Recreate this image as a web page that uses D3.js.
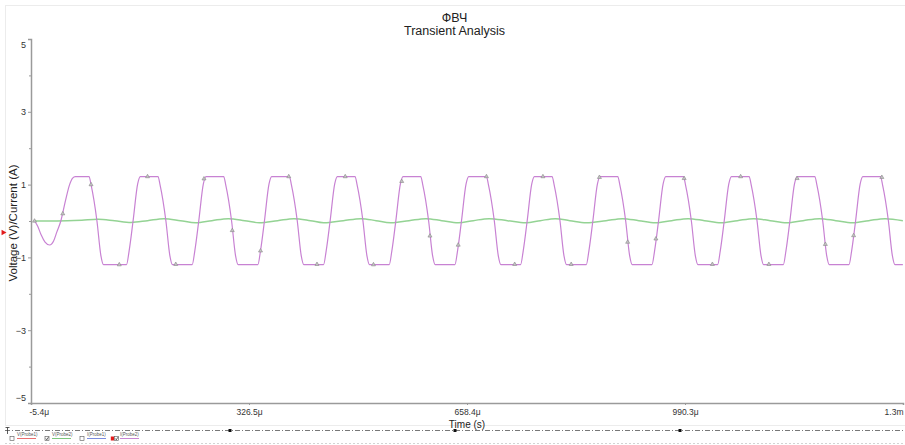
<!DOCTYPE html>
<html><head><meta charset="utf-8">
<script src="https://cdn.jsdelivr.net/npm/d3@7"></script>
<style>html,body{margin:0;padding:0;background:#fff;} svg{display:block;font-family:"Liberation Sans",Arial,sans-serif;}</style>
</head><body><svg id="c" width="905" height="445"></svg>
<script>
// ---------- data ----------
const titleLines = ["ФВЧ", "Transient Analysis"];
const xLabel = "Time (s)";
const yLabel = "Voltage (V)/Current (A)";
const xDomain = [-5.4, 1322.2];            // microseconds
const yDomain = [-5, 5];
const xTickValues = [-5.4, 326.5, 658.4, 990.3, 1322.2];
const xTickLabels = ["-5.4\u03bc", "326.5\u03bc", "658.4\u03bc", "990.3\u03bc", "1.3m"];
const yMajorTicks = [-5, -3, -1, 1, 3, 5];
const yMinorTicks = [-4, -2, 0, 2, 4];
const probeNames = ["V(Probe1)", "V(Probe2)", "I(Probe1)", "I(Probe2)"];
const probeChecked = [false, true, false, true];
const probeColors = ["#e34a4a", "#5cb85c", "#5b6fd6", "#b866c8"];

// I(Probe2) trace: [time μs, value]
const iProbe2 = [
[0,0],[5,-0.15],[10,-0.38],[16,-0.58],[23,-0.66],[29,-0.55],[34,-0.3],[40,0],[47,0.55],[53,0.98],[58,1.18],[62,1.22],
[83,1.22],[86,1.0],[95,0],[101,-0.95],[105,-1.2],
[140,-1.2],[144,-0.82],[150,0],[157,1.02],[161,1.22],
[188,1.22],[191,1.0],[200,0],[206,-0.95],[210,-1.2],
[240,-1.2],[244,-0.82],[250,0],[257,1.02],[261,1.22],
[288,1.22],[291,1.0],[300,0],[306,-0.95],[310,-1.2],
[340,-1.2],[344,-0.82],[350,0],[357,1.02],[361,1.22],
[388,1.22],[391,1.0],[400,0],[406,-0.95],[410,-1.2],
[440,-1.2],[444,-0.82],[450,0],[457,1.02],[461,1.22],
[488,1.22],[491,1.0],[500,0],[506,-0.95],[510,-1.2],
[540,-1.2],[544,-0.82],[550,0],[557,1.02],[561,1.22],
[588,1.22],[591,1.0],[600,0],[606,-0.95],[610,-1.2],
[640,-1.2],[644,-0.82],[650,0],[657,1.02],[661,1.22],
[688,1.22],[691,1.0],[700,0],[706,-0.95],[710,-1.2],
[740,-1.2],[744,-0.82],[750,0],[757,1.02],[761,1.22],
[788,1.22],[791,1.0],[800,0],[806,-0.95],[810,-1.2],
[840,-1.2],[844,-0.82],[850,0],[857,1.02],[861,1.22],
[888,1.22],[891,1.0],[900,0],[906,-0.95],[910,-1.2],
[940,-1.2],[944,-0.82],[950,0],[957,1.02],[961,1.22],
[988,1.22],[991,1.0],[1000,0],[1006,-0.95],[1010,-1.2],
[1040,-1.2],[1044,-0.82],[1050,0],[1057,1.02],[1061,1.22],
[1088,1.22],[1091,1.0],[1100,0],[1106,-0.95],[1110,-1.2],
[1140,-1.2],[1144,-0.82],[1150,0],[1157,1.02],[1161,1.22],
[1188,1.22],[1191,1.0],[1200,0],[1206,-0.95],[1210,-1.2],
[1240,-1.2],[1244,-0.82],[1250,0],[1257,1.02],[1261,1.22],
[1288,1.22],[1291,1.0],[1300,0],[1306,-0.95],[1310,-1.2],
[1322,-1.2]
];

// I(Probe2) cursor markers: [time μs, value]
const iProbe2Markers = [
[0,0],[43,0.2],[86,1.0],[129,-1.2],[172,1.22],[215,-1.19],[258,1.16],[301,-0.26],[344,-0.82],[387,1.22],
[430,-1.19],[473,1.22],[516,-1.2],[559,1.09],[602,-0.41],[645,-0.66],[688,1.22],[731,-1.19],[774,1.22],[817,-1.19],
[860,1.2],[903,-0.58],[946,-0.49],[989,1.17],[1032,-1.19],[1075,1.22],[1118,-1.19],[1161,1.17],[1204,-0.64],[1247,-0.4],
[1290,1.2]
];

// V(Probe2) trace: [time μs, value]
const vProbe2 = [
[0,0],[25,0],[50,0.005],[72,0.02],[97,0.045],[122,0.005],[147,-0.04],[172,0.01],[197,0.065],[222,0.01],
[245,-0.05],[270,0.01],[295,0.065],[320,0.01],[342,-0.05],[370,0.01],[395,0.065],[420,0.01],[440,-0.05],[470,0.01],
[497,0.065],[520,0.01],[542,-0.05],[570,0.01],[596,0.065],[620,0.01],[645,-0.05],[668,0.01],[692,0.065],[720,0.01],
[748,-0.05],[770,0.01],[793,0.065],[815,0.01],[840,-0.05],[870,0.01],[895,0.065],[920,0.01],[945,-0.05],[970,0.01],
[995,0.065],[1020,0.01],[1045,-0.05],[1070,0.01],[1095,0.065],[1120,0.01],[1145,-0.05],[1170,0.01],[1195,0.065],[1220,0.01],
[1245,-0.05],[1270,0.01],[1295,0.065],[1322,0.01]
];

// ---------- layout ----------
const svg = d3.select("#c");
const plot = {left: 31, right: 903, top: 39, bottom: 403};
const x = d3.scaleLinear().domain(xDomain).range([plot.left, plot.right]);
const y = d3.scaleLinear().domain(yDomain).range([plot.bottom, plot.top]);

// panel frame
svg.append("rect").attr("x", 5.5).attr("y", 5.5).attr("width", 905).attr("height", 420)
  .attr("fill", "none").attr("stroke", "#ececec");

// title
svg.selectAll("text.title").data(titleLines).join("text")
  .attr("class", "title").attr("x", 454.5).attr("y", (d, i) => 21.5 + i * 13.5)
  .attr("text-anchor", "middle").attr("font-size", 12.5).attr("fill", "#222").text(d => d);

// y label
svg.append("text").attr("transform", "translate(16.5,223) rotate(-90)")
  .attr("text-anchor", "middle").attr("font-size", 11.5).attr("fill", "#222").text(yLabel);

// red marker at left
svg.append("path").attr("d", d3.symbol(d3.symbolTriangle).size(14)())
  .attr("transform", "translate(3.2,232.5) rotate(90)").attr("fill", "#e21b1b");

// x label
svg.append("text").attr("x", (plot.left + plot.right) / 2).attr("y", 427.5)
  .attr("text-anchor", "middle").attr("font-size", 10).attr("fill", "#222").text(xLabel);

// axes
const axisColor = "#9a9a9a";
const gy = svg.append("g").attr("transform", `translate(${plot.left},0)`)
  .call(d3.axisLeft(y).tickValues(yMajorTicks).tickSize(3).tickPadding(2).tickFormat(d3.format("d")));
const gyMinor = svg.append("g").attr("transform", `translate(${plot.left},0)`)
  .call(d3.axisLeft(y).tickValues(yMinorTicks).tickSize(2).tickFormat(""));
gyMinor.select(".domain").remove();
const gx = svg.append("g").attr("transform", `translate(0,${plot.bottom})`)
  .call(d3.axisBottom(x).tickValues(xTickValues).tickSize(2).tickPadding(3.5).tickFormat((d, i) => xTickLabels[i]));

[gy, gyMinor, gx].forEach(g => {
  g.selectAll(".domain").attr("stroke", axisColor).attr("stroke-width", 1.5);
  g.selectAll(".tick line").attr("stroke", "#999");
  g.selectAll("text").attr("font-size", 8.5).attr("fill", "#333").attr("font-family", '"Liberation Sans",Arial,sans-serif');
});
gy.selectAll(".tick text").attr("font-size", 9).attr("dy", d => d === 5 ? "0.9em" : d === -5 ? "-0.25em" : "0.32em");
gx.selectAll(".tick text").attr("text-anchor", (d, i) => i === 0 ? "start" : i === xTickValues.length - 1 ? "end" : "middle")
  .attr("dx", (d, i) => i === 0 ? -2 : 0);

// traces
const lineG = d3.line().x(d => x(d[0])).y(d => y(d[1])).curve(d3.curveCatmullRom);
const lineP = d3.line().x(d => x(d[0])).y(d => y(d[1])).curve(d3.curveMonotoneX);
svg.append("path").datum(vProbe2).attr("d", lineG)
  .attr("fill", "none").attr("stroke", "#94d394").attr("stroke-width", 1.5);
svg.append("path").datum(iProbe2).attr("d", lineP)
  .attr("fill", "none").attr("stroke", "#c882d3").attr("stroke-width", 1.2);
svg.selectAll("path.mk").data(iProbe2Markers).join("path").attr("class", "mk")
  .attr("d", d3.symbol(d3.symbolTriangle).size(7)())
  .attr("transform", d => `translate(${x(d[0])},${y(d[1])})`)
  .attr("fill", "#c4c4c4").attr("stroke", "#888").attr("stroke-width", 0.6);

// bottom strip
svg.append("line").attr("x1", 5).attr("x2", 905).attr("y1", 430.5).attr("y2", 430.5)
  .attr("stroke", "#555").attr("stroke-width", 0.8).attr("stroke-dasharray", "5,2,1,2");
[230, 455, 680].forEach(px => svg.append("rect").attr("x", px - 1.5).attr("y", 429).attr("width", 3).attr("height", 3).attr("fill", "#111"));
svg.append("path").attr("d", "M5.5,427.5H9.5M7.5,427.5V434").attr("stroke", "#333").attr("stroke-width", 0.8).attr("fill", "none");
svg.append("line").attr("x1", 5).attr("x2", 905).attr("y1", 443.5).attr("y2", 443.5)
  .attr("stroke", "#c8c8c8").attr("stroke-width", 0.8).attr("stroke-dasharray", "2,2");

const legendBoxX = [10, 45, 80, 114.5];
const legendTextX = [17, 52, 87, 120];
const lg = svg.append("g");
probeNames.forEach((name, i) => {
  lg.append("rect").attr("x", legendBoxX[i]).attr("y", 436.5).attr("width", 4).attr("height", 4)
    .attr("fill", "#fff").attr("stroke", "#555").attr("stroke-width", 0.6);
  if (probeChecked[i]) {
    lg.append("path").attr("d", `M${legendBoxX[i] + 0.8},${438.5}L${legendBoxX[i] + 1.8},${439.8}L${legendBoxX[i] + 3.4},${437.2}`)
      .attr("fill", "none").attr("stroke", "#222").attr("stroke-width", 0.7);
  }
  lg.append("text").attr("x", legendTextX[i]).attr("y", 435.5).attr("font-size", 4.5).attr("fill", "#555").text(name);
  lg.append("line").attr("x1", legendTextX[i]).attr("x2", legendTextX[i] + 19).attr("y1", 438.5).attr("y2", 438.5)
    .attr("stroke", probeColors[i]).attr("stroke-width", 0.8);
});
lg.append("rect").attr("x", 110.8).attr("y", 436.5).attr("width", 3.2).attr("height", 4).attr("fill", "#e21b1b");
</script></body></html>
